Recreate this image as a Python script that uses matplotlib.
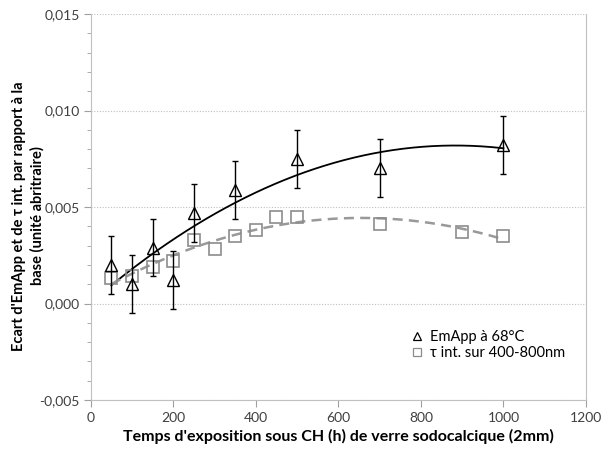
import matplotlib
matplotlib.use("Agg")
import matplotlib.pyplot as plt
import numpy as np
from matplotlib.ticker import MultipleLocator, FuncFormatter
from matplotlib.lines import Line2D

plt.rcParams['font.family'] = ['Lato', 'DejaVu Sans']

# EmApp a 68°C
t_em = [50, 100, 150, 200, 250, 350, 500, 700, 1000]
em = [0.0020, 0.0010, 0.0029, 0.0012, 0.0047, 0.0059, 0.0075, 0.0070, 0.0082]
em_err = [0.0015, 0.0015, 0.0015, 0.0015, 0.0015, 0.0015, 0.0015, 0.0015, 0.0015]

# tau int. sur 400-800nm
t_tau = [50, 100, 150, 200, 250, 300, 350, 400, 450, 500, 700, 900, 1000]
tau = [0.0013, 0.0014, 0.0019, 0.0022, 0.0033, 0.0028, 0.0035, 0.0038,
       0.0045, 0.0045, 0.0041, 0.0037, 0.0035]

fig = plt.figure(figsize=(6.01, 4.53), dpi=100)
ax = fig.add_axes([0.151, 0.117, 0.824, 0.852])

ax.errorbar(t_em, em, yerr=em_err, fmt='^', mfc='none', mec='black', mew=1.0,
            ms=9, ecolor='black', elinewidth=1.0, capsize=2, capthick=1.0,
            zorder=4)
ax.plot(t_tau, tau, 's', mfc='none', mec='#8c8c8c', mew=1.2, ms=8.5, zorder=3)

# polynomial trend lines (order 2)
xs = np.linspace(min(t_em), max(t_em), 200)
p_em = np.polyfit(t_em, em, 2)
ax.plot(xs, np.polyval(p_em, xs), color='black', lw=1.3, zorder=2)
xs2 = np.linspace(min(t_tau), max(t_tau), 200)
p_tau = np.polyfit(t_tau, tau, 2)
ax.plot(xs2, np.polyval(p_tau, xs2), color='#999999', lw=1.8,
        ls=(0, (4, 2.5)), zorder=2)

ax.set_xlim(0, 1200)
ax.set_ylim(-0.005, 0.015)
ax.xaxis.set_major_locator(MultipleLocator(200))
ax.yaxis.set_major_locator(MultipleLocator(0.005))
ax.yaxis.set_minor_locator(MultipleLocator(0.001))
ax.yaxis.set_major_formatter(FuncFormatter(lambda v, p: ('%.3f' % v).replace('.', ',')))
ax.grid(axis='y', which='major', color='#bfbfbf', ls=(0, (1, 1.5)), lw=0.8)
ax.set_axisbelow(True)

for s in ['left', 'bottom', 'right']:
    ax.spines[s].set_color('#c0c0c0')
ax.spines['top'].set_visible(False)
ax.tick_params(axis='both', which='both', colors='#a0a0a0', labelcolor='#404040',
               labelsize=10, direction='out')
ax.tick_params(axis='x', length=5)
ax.tick_params(axis='y', which='major', length=5, pad=3)
ax.tick_params(axis='y', which='minor', length=3)

ax.set_xlabel("Temps d'exposition sous CH (h) de verre sodocalcique (2mm)",
              fontsize=11.5, fontweight='bold', labelpad=4)
ax.set_ylabel("Ecart d'EmApp et de τ int. par rapport à la\nbase (unité abritraire)",
              fontsize=10.5, fontweight='bold', linespacing=1.3)
ax.yaxis.set_label_coords(-0.094, 0.477)

handles = [Line2D([], [], ls='none', marker='^', mfc='none', mec='black', mew=0.9, ms=6),
           Line2D([], [], ls='none', marker='s', mfc='none', mec='#8c8c8c', mew=0.9, ms=6)]
labels = ['EmApp à 68°C', 'τ int. sur 400-800nm']
ax.legend(handles, labels, loc='lower right', bbox_to_anchor=(0.985, 0.07),
          frameon=False, fontsize=10.5, handlelength=0.8, handletextpad=0.5,
          labelspacing=0.15)

fig.savefig('out.png', dpi=100)
